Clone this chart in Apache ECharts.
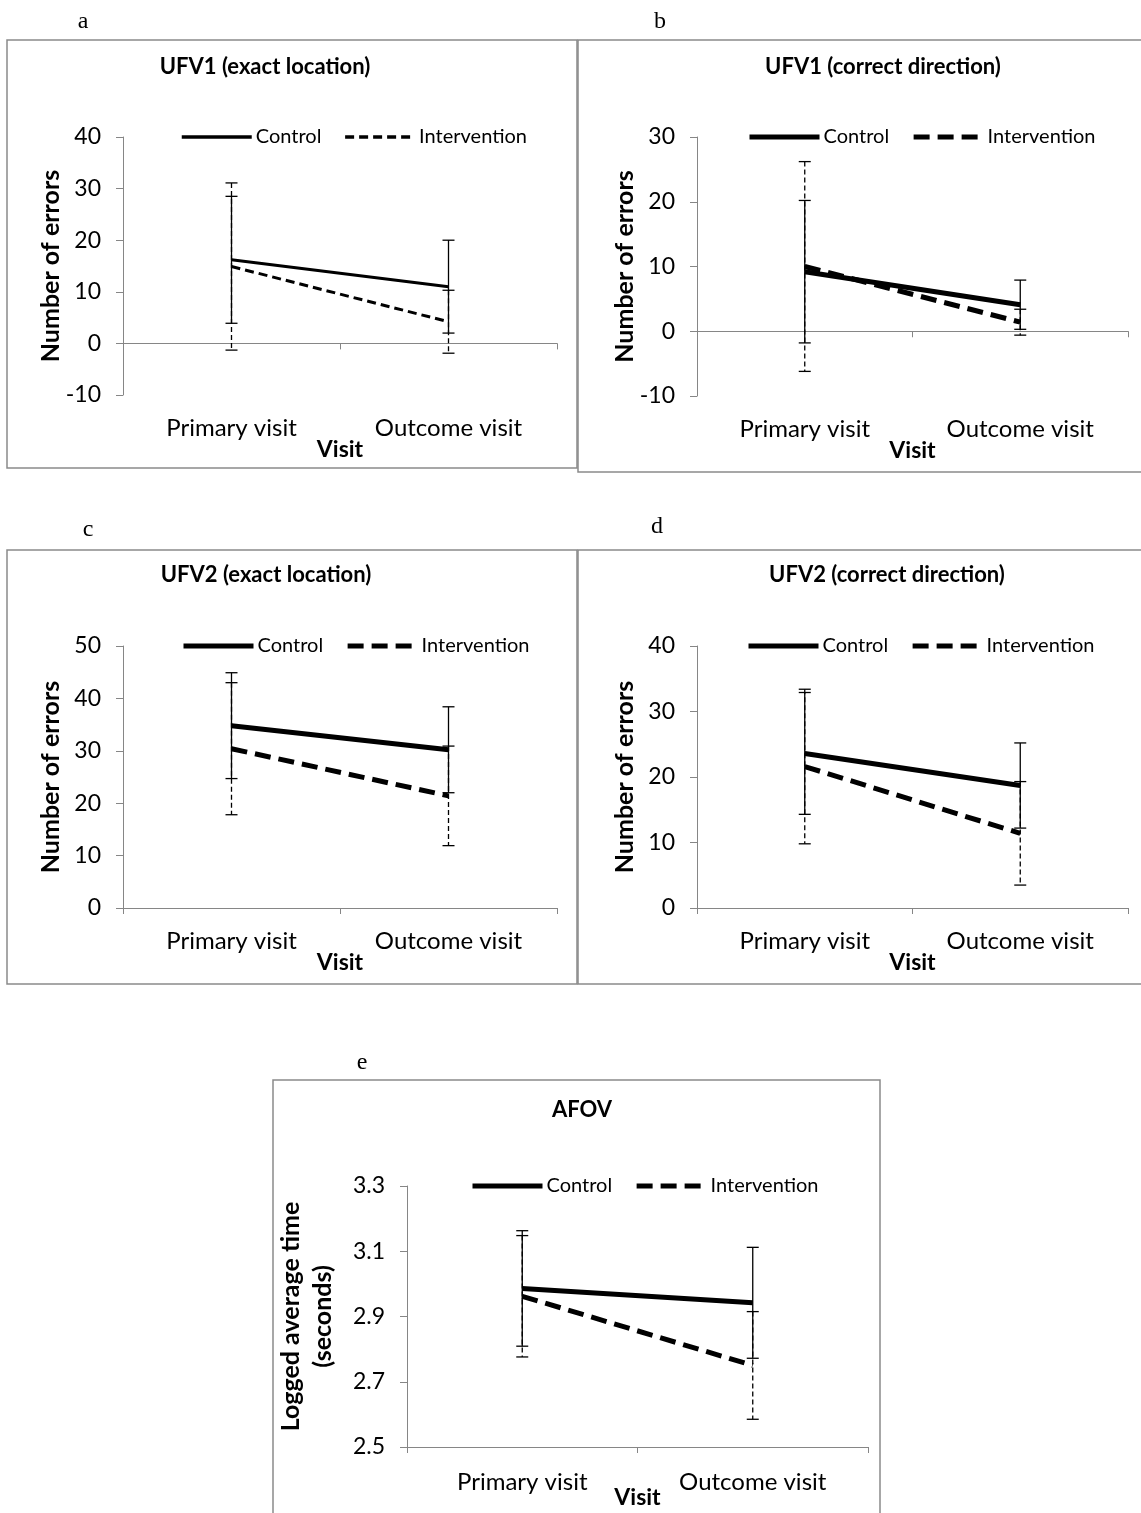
<!DOCTYPE html>
<html>
<head>
<meta charset="utf-8">
<script src="https://cdn.jsdelivr.net/npm/echarts@6/dist/echarts.min.js"></script>
<style>
html,body{margin:0;padding:0;background:#fff;}
#chart{width:1141px;height:1513px;}
</style>
</head>
<body>
<div id="chart"></div>
<script>
// ---- data ----
const categories = ['Primary visit', 'Outcome visit'];

const aControl = [16.2, 11.0];
const aControlErr = [12.3, 9.0];
const aInterv = [14.9, 4.2];
const aIntervErr = [16.2, 6.1];

const bControl = [9.2, 4.1];
const bControlErr = [11.0, 3.8];
const bInterv = [10.0, 1.4];
const bIntervErr = [16.2, 2.0];

const cControl = [34.8, 30.2];
const cControlErr = [10.1, 8.2];
const cInterv = [30.4, 21.4];
const cIntervErr = [12.6, 9.5];

const dControl = [23.6, 18.7];
const dControlErr = [9.3, 6.5];
const dInterv = [21.6, 11.4];
const dIntervErr = [11.8, 7.9];

const eControl = [2.986, 2.942];
const eControlErr = [0.177, 0.17];
const eInterv = [2.962, 2.75];
const eIntervErr = [0.186, 0.165];

const titles = ['UFV1 (exact location)', 'UFV1 (correct direction)', 'UFV2 (exact location)', 'UFV2 (correct direction)', 'AFOV'];
const letters = ['a', 'b', 'c', 'd', 'e'];
const yNames = ['Number of errors', 'Number of errors', 'Number of errors', 'Number of errors', 'Logged average time\n(seconds)'];
const yTicksE = [2.5, 2.7, 2.9, 3.1, 3.3];

// ---- layout ----
const FONT = 'Lato, "Open Sans", sans-serif';
const panels = [
  {left:123, top:137, width:434, height:258, min:-10, max:40, interval:10, ctl:aControl, ctlE:aControlErr, int:aInterv, intE:aIntervErr, thin:true,
   legLeft:175, titleX:265, titleY:67, letterX:83, letterY:22, box:[7,40,570,428]},
  {left:697, top:137, width:431, height:259, min:-10, max:30, interval:10, ctl:bControl, ctlE:bControlErr, int:bInterv, intE:bIntervErr,
   legLeft:742, titleX:883, titleY:67, letterX:660, letterY:22, box:[578,40,570,432]},
  {left:123, top:646, width:434, height:262, min:0, max:50, interval:10, ctl:cControl, ctlE:cControlErr, int:cInterv, intE:cIntervErr,
   legLeft:176, titleX:266, titleY:575, letterX:88, letterY:530, box:[7,550,570,434]},
  {left:697, top:646, width:431, height:262, min:0, max:40, interval:10, ctl:dControl, ctlE:dControlErr, int:dInterv, intE:dIntervErr,
   legLeft:741, titleX:887, titleY:575, letterX:657, letterY:527, box:[578,550,570,434]},
  {left:407, top:1186, width:461, height:261, min:2.5, max:3.3, custom:yTicksE, ctl:eControl, ctlE:eControlErr, int:eInterv, intE:eIntervErr,
   legLeft:465, titleX:582, titleY:1110, letterX:362, letterY:1063, box:[273,1080,607,440], twoLine:true}
];

function errRender(dashed) {
  return function (params, api) {
    const x = api.value(0), m = api.value(1), e = api.value(2);
    const top = api.coord([x, m + e]);
    const bot = api.coord([x, m - e]);
    const w = 6;
    const cap = {stroke:'#000', lineWidth:1.3};
    return {type:'group', children:[
      {type:'line', shape:{x1:top[0], y1:top[1], x2:bot[0], y2:bot[1]},
       style:{stroke:'#000', lineWidth:1.3, lineDash: dashed ? [5,3] : null}},
      {type:'line', shape:{x1:top[0]-w, y1:top[1], x2:top[0]+w, y2:top[1]}, style:cap},
      {type:'line', shape:{x1:bot[0]-w, y1:bot[1], x2:bot[0]+w, y2:bot[1]}, style:cap}
    ]};
  };
}

const grid = [], xAxis = [], yAxis = [], series = [], legend = [], graphic = [];
panels.forEach((p, i) => {
  grid.push({left:p.left, top:p.top, width:p.width, height:p.height, containLabel:false, outerBoundsMode:'none'});
  xAxis.push({
    type:'category', gridIndex:i, data:categories, boundaryGap:true,
    axisLine:{lineStyle:{color:'#868686', width:1}},
    axisTick:{show:true, length:6, lineStyle:{color:'#868686'}},
    axisLabel:{color:'#000', fontSize:24, fontFamily:FONT, margin:p.twoLine ? 23 : 21},
    name:'Visit', nameLocation:'middle', nameGap:p.twoLine ? 39 : 43, nameMoveOverlap:false,
    nameTextStyle:{color:'#000', fontSize:23, fontWeight:'bold', fontFamily:FONT}
  });
  const ya = {
    type:'value', gridIndex:i, min:p.min, max:p.max,
    splitLine:{show:false},
    axisLine:{show:true, lineStyle:{color:'#868686', width:1}},
    axisTick:{show:true, length:7, lineStyle:{color:'#868686'}},
    axisLabel:{color:'#000', fontSize:23, fontFamily:FONT, margin:22},
    name:yNames[i], nameLocation:'middle', nameGap:p.twoLine ? 68 : 56, nameMoveOverlap:false,
    nameTextStyle:{color:'#000', fontSize:25, fontWeight:'bold', fontFamily:FONT, lineHeight:32}
  };
  if (p.custom) {
    ya.axisLabel.customValues = p.custom;
    ya.axisTick.customValues = p.custom;
    ya.axisLabel.formatter = v => v.toFixed(1);
  } else {
    ya.interval = p.interval;
  }
  yAxis.push(ya);

  const lw = p.thin ? 3 : 5;
  const dash = p.thin ? [9,5] : [16,8];
  const cName = 'Control' + ' '.repeat(i);
  const iName = 'Intervention' + ' '.repeat(i);
  series.push({
    type:'line', name:cName, xAxisIndex:i, yAxisIndex:i, data:p.ctl,
    symbol:'none', lineStyle:{color:'#000', width:lw, type:'solid'}, itemStyle:{color:'#000'}, z:3
  });
  series.push({
    type:'line', name:iName, xAxisIndex:i, yAxisIndex:i, data:p.int,
    symbol:'none', lineStyle:{color:'#000', width:lw, type:dash}, itemStyle:{color:'#000'}, z:3
  });
  series.push({
    type:'custom', name:'errC' + i, xAxisIndex:i, yAxisIndex:i,
    data:categories.map((c, k) => [k, p.ctl[k], p.ctlE[k]]),
    encode:{x:0, y:1}, renderItem:errRender(false), z:4
  });
  series.push({
    type:'custom', name:'errI' + i, xAxisIndex:i, yAxisIndex:i,
    data:categories.map((c, k) => [k, p.int[k], p.intE[k]]),
    encode:{x:0, y:1}, renderItem:errRender(true), z:4
  });
  legend.push({
    data:[cName, iName], left:p.legLeft, top:p.top - 15, itemWidth:70, itemHeight:16, itemGap:22,
    orient:'horizontal', selectedMode:false,
    formatter: n => n.trim(),
    itemStyle:{opacity:0},
    lineStyle:{width:p.thin ? 3.5 : 5},
    textStyle:{color:'#000', fontSize:20, fontFamily:FONT, padding:[0,0,0,-1]}
  });
  graphic.push({
    type:'rect', shape:{x:p.box[0], y:p.box[1], width:p.box[2], height:p.box[3]},
    style:{fill:'none', stroke:'#8a8a8a', lineWidth:1.5}, silent:true, z:-1
  });
  graphic.push({
    type:'text', x:p.titleX, y:p.titleY,
    style:{text:titles[i], fill:'#000', font:'bold 22px ' + FONT, textAlign:'center', textVerticalAlign:'middle'}
  });
  graphic.push({
    type:'text', x:p.letterX, y:p.letterY,
    style:{text:letters[i], fill:'#000', font:'24px "Liberation Serif", "DejaVu Serif", serif', textAlign:'center', textVerticalAlign:'middle'}
  });
});

const chart = echarts.init(document.getElementById('chart'), null, {renderer:'canvas'});
chart.setOption({
  animation:false,
  backgroundColor:'#fff',
  grid, xAxis, yAxis, series, legend, graphic
});
</script>
</body>
</html>
